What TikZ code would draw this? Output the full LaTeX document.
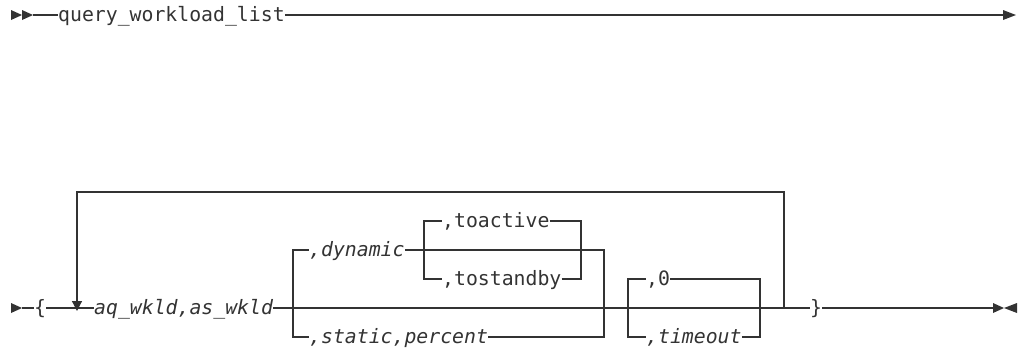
\documentclass[tikz,border=0pt]{standalone}
\usepackage{fontspec}
\newfontfamily\rrmono{DejaVu Sans Mono}
\usetikzlibrary{arrows.meta}
\definecolor{rrline}{HTML}{333333}
\tikzset{
  x=1pt, y=-1pt,
  rail/.style={draw=rrline, line width=1.2pt},
  % box height fixed so the node centre sits 6pt above the baseline
  term/.style={inner sep=0pt, anchor=west, text=rrline,
    text height=12pt, text depth=0pt,
    font=\rrmono\fontsize{19.8}{24}\selectfont},
  var/.style={term, font=\rrmono\itshape\fontsize{19.8}{24}\selectfont},
  tip/.style={fill=rrline, draw=none},
  loopback/.style={rail, -{Triangle[length=10pt,width=10pt]}}
}
\begin{document}
\begin{tikzpicture}
\useasboundingbox (0,0) rectangle (1018,349);

% ---- first line: command name ----
\fill[tip] (11,10) -- (22,15) -- (11,20) -- cycle;
\fill[tip] (22,10) -- (33,15) -- (22,20) -- cycle;
\coordinate (s1) at (33,15);
\node[term] (cmd) at (58,15) {query\_workload\_list};
\coordinate (e1) at (1004,15);
\draw[rail] (s1) -- (cmd.west);
\draw[rail] (cmd.east) -- (e1);
\fill[tip] (1003,10) -- (1016,15) -- (1003,20) -- cycle;

% ---- second line: parameter list ----
\fill[tip] (11,303) -- (22,308) -- (11,313) -- cycle;
\coordinate (s2) at (22,308);
\node[term] (lb) at (34,308) {\{};
\draw[rail] (s2) -- (lb.west);

\node[var] (wk) at (94,308) {aq\_wkld,as\_wkld};
\draw[rail] (lb.east) -- (wk.west);

% repeat loop
\coordinate (rpL) at (77,308);
\coordinate (rpR) at (784,308);
\draw[loopback] (rpR) -- (784,192) -- (77,192) -- ([yshift=-3pt]rpL);

% group: dynamic / static
\coordinate (gA) at (293,308);
\coordinate (gB) at (604,308);
\node[var] (dyn) at (309,250) {,dynamic};
\node[var] (sp) at (309,337) {,static,percent};
\draw[rail] (gA) -- (293,250) -- (dyn.west);
\draw[rail] (gA) -- (293,337) -- (sp.west);
\draw[rail] (dyn.east) -- (604,250) -- (gB);
\draw[rail] (sp.east) -- (604,337) -- (gB);

% nested group: toactive / tostandby
\coordinate (gC) at (424,250);
\coordinate (gD) at (581,250);
\node[term] (ta) at (442,221) {,toactive};
\node[term] (ts) at (442,279) {,tostandby};
\draw[rail] (gC) -- (424,221) -- (ta.west);
\draw[rail] (gC) -- (424,279) -- (ts.west);
\draw[rail] (ta.east) -- (581,221) -- (gD);
\draw[rail] (ts.east) -- (581,279) -- (gD);

% group: 0 / timeout
\coordinate (gE) at (628,308);
\coordinate (gF) at (760,308);
\node[term] (zr) at (646,279) {,0};
\node[var] (tm) at (646,337) {,timeout};
\draw[rail] (gE) -- (628,279) -- (zr.west);
\draw[rail] (gE) -- (628,337) -- (tm.west);
\draw[rail] (zr.east) -- (760,279) -- (gF);
\draw[rail] (tm.east) -- (760,337) -- (gF);

% main rail and closing brace
\node[term] (rb) at (810,308) {\}};
\draw[rail] (wk.east) -- (rb.west);
\coordinate (e2) at (993,308);
\draw[rail] (rb.east) -- (e2);
\draw[draw=rrline, line width=2pt] ([xshift=4pt]rb.east) -- ([xshift=28pt]rb.east);
\fill[tip] (993,303) -- (1004,308) -- (993,313) -- cycle;
\fill[tip] (1017,303) -- (1004,308) -- (1017,313) -- cycle;
\end{tikzpicture}
\end{document}
